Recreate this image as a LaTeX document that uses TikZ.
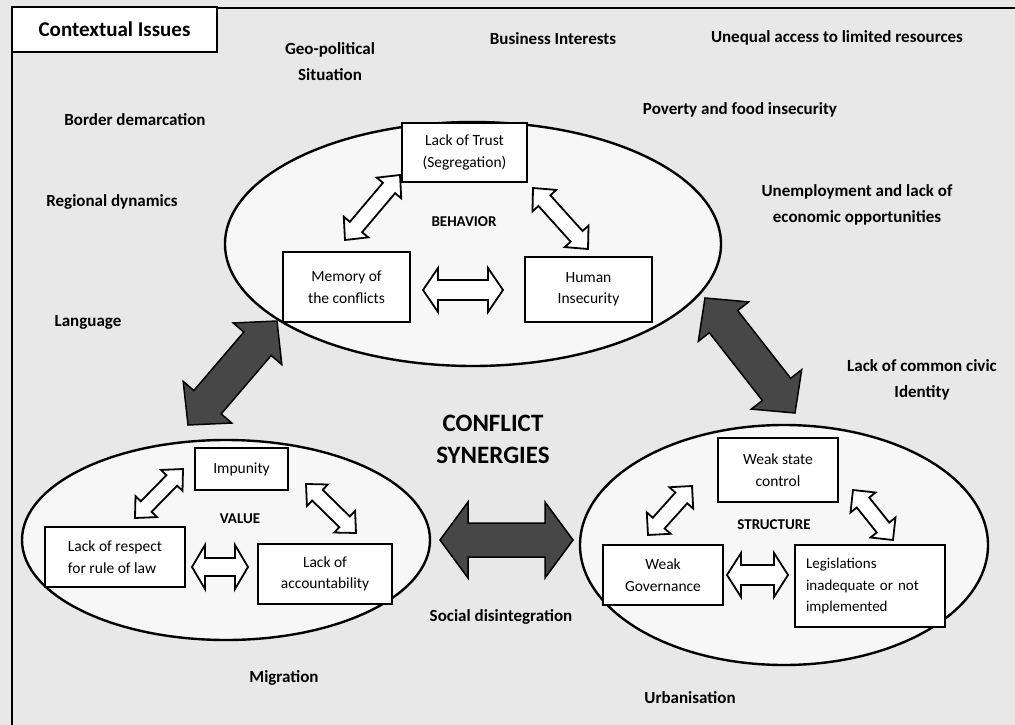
\documentclass[tikz,border=0pt]{standalone}
\usepackage{fontspec}
\setmainfont{Carlito}
\usetikzlibrary{calc,shapes.geometric}
\tikzset{
  lbl/.style={font=\fontsize{17}{26}\selectfont\bfseries, align=center, inner sep=0pt},
  tag/.style={font=\fontsize{15}{18}\selectfont\bfseries, inner sep=0pt},
  bx/.style={draw, line width=1.8pt, fill=white, font=\fontsize{15.5}{21.5}\selectfont, align=center, inner sep=0pt},
  ell/.style={draw, ellipse, line width=2.4pt, fill=black!3, inner sep=0pt},
  fat/.style n args={3}{to path={
    (\tikztostart)
    -- ($(\tikztostart)!#1!(\tikztotarget)!#2!90:(\tikztotarget)$)
    -- ($(\tikztostart)!#1!(\tikztotarget)!#3!90:(\tikztotarget)$)
    -- ($(\tikztotarget)!#1!(\tikztostart)!#3!-90:(\tikztostart)$)
    -- ($(\tikztotarget)!#1!(\tikztostart)!#2!-90:(\tikztostart)$)
    -- (\tikztotarget)
    -- ($(\tikztotarget)!#1!(\tikztostart)!#2!90:(\tikztostart)$)
    -- ($(\tikztotarget)!#1!(\tikztostart)!#3!90:(\tikztostart)$)
    -- ($(\tikztostart)!#1!(\tikztotarget)!#3!-90:(\tikztotarget)$)
    -- ($(\tikztostart)!#1!(\tikztotarget)!#2!-90:(\tikztotarget)$)
    -- cycle}},
  hollow/.style={draw, line width=1.8pt, fill=white, line join=miter},
  dark/.style={draw, line width=1.5pt, fill=black!72, line join=miter},
}
\begin{document}
\begin{tikzpicture}[x=1pt,y=-1pt]
\useasboundingbox (0,0) rectangle (1015,725);
\fill[black!9] (0,0) rectangle (1015,725);
% frame
\draw[line width=2.5pt] (1015,8) -- (12,8) -- (12,725);
\node[draw, line width=2pt, fill=white, minimum width=205pt, minimum height=45pt, inner sep=0pt,
      font=\fontsize{21}{24}\selectfont\bfseries] (ctx) at (114.5,29.5) {Contextual Issues};

% ellipses
\node[ell, minimum width=496pt, minimum height=244pt] (beh) at (473,244) {};
\node[ell, minimum width=408pt, minimum height=200pt] (val) at (226,540) {};
\node[ell, minimum width=408pt, minimum height=240pt] (str) at (784,545) {};

% contextual labels
\node[lbl] (geo) at (330,62) {Geo-political\\Situation};
\node[lbl] (bus) at (553,39) {Business Interests};
\node[lbl] (uneq) at (837,38) {Unequal access to limited resources};
\node[lbl] (pov) at (740,110) {Poverty and food insecurity};
\node[lbl] (bord) at (135,120) {Border demarcation};
\node[lbl] (reg) at (112,202) {Regional dynamics};
\node[lbl] (unemp) at (857,205) {Unemployment and lack of\\economic opportunities};
\node[lbl] (lang) at (88,322) {Language};
\node[lbl] (civic) at (922,380) {Lack of common civic\\Identity};
\node[lbl] (soc) at (501,617) {Social disintegration};
\node[lbl] (mig) at (284,678) {Migration};
\node[lbl] (urb) at (690,698) {Urbanisation};
\node[font=\fontsize{25}{32}\selectfont\bfseries, align=center, inner sep=0pt] (cs) at (493,439) {CONFLICT\\SYNERGIES};

% behavior
\node[tag] (behl) at (464,222) {BEHAVIOR};
\node[bx, minimum width=125pt, minimum height=59pt] (trust) at (464.5,152.5) {Lack of Trust\\(Segregation)};
\node[bx, minimum width=127pt, minimum height=70pt] (mem) at (346.5,287) {Memory of\\the conflicts};
\node[bx, minimum width=127pt, minimum height=65pt] (hum) at (588.5,289.5) {Human\\Insecurity};

% value
\node[tag] (vall) at (240,519) {VALUE};
\node[bx, minimum width=93pt, minimum height=42pt] (imp) at (241.5,469) {Impunity};
\node[bx, minimum width=140pt, minimum height=60pt, align=left] (resp) at (115,557) {Lack of respect\\for rule of law};
\node[bx, minimum width=134pt, minimum height=60pt] (acc) at (325,574) {Lack of\\accountability};

% structure
\node[tag] (strl) at (774,525) {STRUCTURE};
\node[bx, minimum width=120pt, minimum height=64pt] (wsc) at (778,470) {Weak state\\control};
\node[bx, minimum width=120pt, minimum height=60pt] (wg) at (663,575) {Weak\\Governance};
\node[bx, minimum width=150pt, minimum height=82pt, align=left, text width=128pt,
      font=\fontsize{15}{21.5}\selectfont] (leg) at (870,586) {Legislations\\inadequate or not\\implemented};

% arrow end points
\coordinate (b1a) at (400,175); \coordinate (b1b) at (345,240);
\coordinate (b2a) at (533,188); \coordinate (b2b) at (588,249);
\coordinate (b3a) at (423,290); \coordinate (b3b) at (503,290);
\coordinate (v1a) at (183,469); \coordinate (v1b) at (135,518);
\coordinate (v2a) at (306,484); \coordinate (v2b) at (356,533);
\coordinate (v3a) at (192,567); \coordinate (v3b) at (248,567);
\coordinate (s1a) at (692,486); \coordinate (s1b) at (648,535);
\coordinate (s2a) at (853,490); \coordinate (s2b) at (893,540);
\coordinate (s3a) at (727,575); \coordinate (s3b) at (788,575);
\coordinate (d1a) at (277,321); \coordinate (d1b) at (188,425);
\coordinate (d2a) at (705,298); \coordinate (d2b) at (795,413);
\coordinate (d3a) at (440,540); \coordinate (d3b) at (573,540);

% hollow arrows
\draw[hollow] (b1a) to[fat={17pt}{16pt}{8pt}] (b1b);
\draw[hollow] (b2a) to[fat={17pt}{16pt}{8pt}] (b2b);
\draw[hollow] (b3a) to[fat={15pt}{22pt}{10pt}] (b3b);
\draw[hollow] (v1a) to[fat={16pt}{15pt}{7.5pt}] (v1b);
\draw[hollow] (v2a) to[fat={16pt}{15pt}{7.5pt}] (v2b);
\draw[hollow] (v3a) to[fat={13pt}{22pt}{9pt}] (v3b);
\draw[hollow] (s1a) to[fat={16pt}{16pt}{8pt}] (s1b);
\draw[hollow] (s2a) to[fat={16pt}{16pt}{8pt}] (s2b);
\draw[hollow] (s3a) to[fat={14pt}{22pt}{10pt}] (s3b);

% dark arrows
\draw[dark] (d1a) to[fat={30pt}{32pt}{18pt}] (d1b);
\draw[dark] (d2a) to[fat={30pt}{32pt}{18pt}] (d2b);
\draw[dark] (d3a) to[fat={28pt}{38pt}{17pt}] (d3b);
\end{tikzpicture}
\end{document}
